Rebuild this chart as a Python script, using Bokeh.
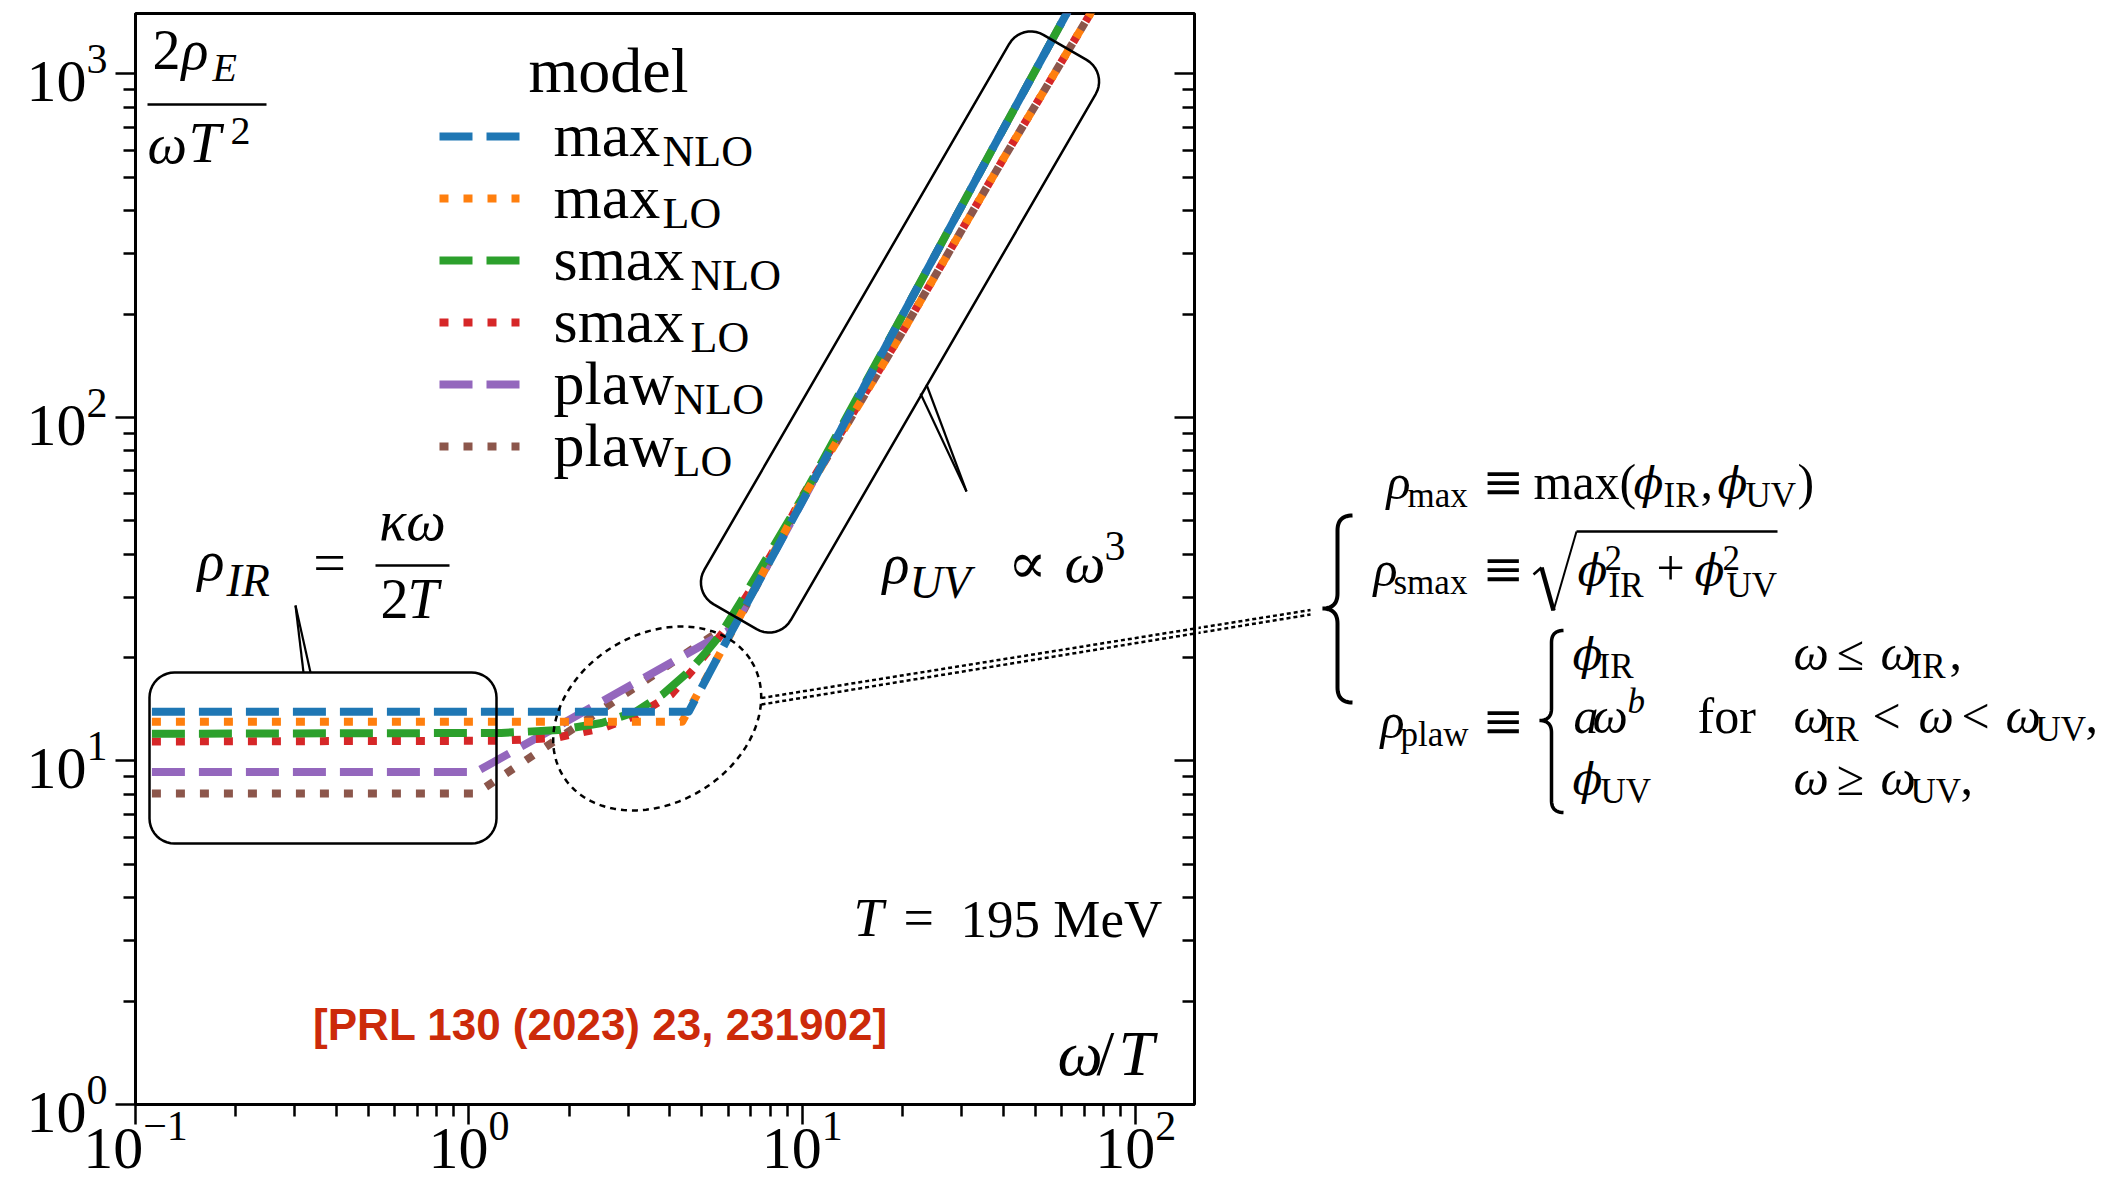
import math
from bokeh.plotting import figure
from bokeh.models import Label, FixedTicker, LogAxis, Range1d, CustomJSTickFormatter
from bokeh.layouts import row
from bokeh.embed import file_html
from bokeh.resources import INLINE

# ---------------- data: 2 rho_E / (omega T^2) vs omega/T ----------------
x_max_nlo = [0.112, 4.56, 6.0, 10, 20, 40, 62, 85]
y_max_nlo = [13.9, 13.9, 22.9, 57, 199, 690, 1500, 2700]
x_max_lo = [0.112, 4.36, 6.0, 10, 20, 40, 72.8, 95]
y_max_lo = [13.0, 13.0, 22.8, 58, 178, 565, 1490, 2450]
x_smax_nlo = [0.112, 1.25, 1.86, 2.5, 3.16, 3.8, 4.56, 5.2, 5.66, 6.5, 8.0, 10, 20, 40, 62, 85]
y_smax_nlo = [12.0, 12.07, 12.3, 12.9, 13.9, 15.6, 18.2, 21.0, 23.2, 28.8, 40.5, 58.5, 199, 690, 1500, 2700]
x_smax_lo = [0.112, 1.2, 1.8, 2.54, 3.2, 4.04, 4.81, 5.8, 7.0, 8.5, 10, 20, 40, 72.8, 95]
y_smax_lo = [11.4, 11.45, 11.65, 12.5, 13.6, 15.6, 18.9, 23.8, 31.5, 43.5, 59, 178, 565, 1490, 2450]
x_plaw_nlo = [0.112, 1.05, 6.2, 10, 20, 40, 62, 85]
y_plaw_nlo = [9.29, 9.29, 24.4, 57, 199, 690, 1500, 2700]
x_plaw_lo = [0.112, 1.05, 6.5, 10, 20, 40, 72.8, 95]
y_plaw_lo = [8.04, 8.04, 26.2, 58, 178, 565, 1490, 2450]

models = ["max", "max", "smax", "smax", "plaw", "plaw"]
orders = ["NLO", "LO", "NLO", "LO", "NLO", "LO"]
colors = ["#1f77b4", "#ff7f0e", "#2ca02c", "#d62728", "#9467bd", "#8c564b"]
x_major = [0.1, 1, 10, 100]
y_major = [1, 10, 100, 1000]

series = [
    (x_max_nlo, y_max_nlo), (x_max_lo, y_max_lo),
    (x_smax_nlo, y_smax_nlo), (x_smax_lo, y_smax_lo),
    (x_plaw_nlo, y_plaw_nlo), (x_plaw_lo, y_plaw_lo),
]
DASHED, DOTTED = "33 14", "9 15"
dashes = [DASHED, DOTTED, DASHED, DOTTED, DASHED, DOTTED]

# ---------------- layout geometry ----------------
H = 1181
W1 = 1198
FL, FR, FT, FB = 135, 1194, 13, 1104
XMIN, XMAX = 0.1, 150.0
YMIN, YMAX = 1.0, 1500.0
LX = math.log10(XMAX / XMIN)
LY = math.log10(YMAX / YMIN)
KSHIFT = 0.355   # baseline correction (fraction of font size)


def X(px):
    return XMIN * 10 ** ((px - FL) / (FR - FL) * LX)


def Y(py):
    return YMIN * 10 ** ((FB - py) / (FB - FT) * LY)


SERIF = "Liberation Serif"
MATH = "DejaVu Serif"

p = figure(width=W1, height=H, x_axis_type="log", y_axis_type="log",
           x_range=Range1d(XMIN, XMAX), y_range=Range1d(YMIN, YMAX),
           output_backend="svg", toolbar_location=None, title=None,
           min_border_left=FL, min_border_right=W1 - FR, min_border_top=FT,
           min_border_bottom=H - FB)
p.grid.visible = False
p.outline_line_color = "black"
p.outline_line_width = 3
p.background_fill_color = "white"
p.border_fill_color = "white"

x_minor = [m * d for d in (0.1, 1, 10, 100) for m in range(2, 10)]
y_minor = [m * d for d in (1, 10, 100, 1000) for m in range(2, 10)]
p.xaxis.ticker = FixedTicker(ticks=x_major, minor_ticks=x_minor)
p.yaxis.ticker = FixedTicker(ticks=y_major, minor_ticks=y_minor)
for ax in (p.xaxis[0], p.yaxis[0]):
    ax.axis_line_width = 3
    ax.major_tick_line_width = 2.5
    ax.minor_tick_line_width = 2.5
    ax.major_tick_out = 20
    ax.major_tick_in = 0
    ax.minor_tick_out = 12
    ax.minor_tick_in = 0
    ax.major_label_text_font = SERIF
    ax.major_label_text_font_size = "60px"
    ax.major_label_text_color = "black"
p.xaxis.major_label_standoff = -12
p.yaxis.major_label_standoff = 8

ra = LogAxis(ticker=FixedTicker(ticks=y_major, minor_ticks=y_minor),
             formatter=CustomJSTickFormatter(code="return ''"),
             major_tick_in=20, major_tick_out=0, minor_tick_in=12, minor_tick_out=0,
             major_tick_line_width=2.5, minor_tick_line_width=2.5,
             axis_line_color=None, major_label_standoff=0,
             major_label_text_font_size="0px")
p.add_layout(ra, "right")

# ---------------- data lines (drawn so that the max curves end up on top) ----------------
for (xs, ys), c, d in reversed(list(zip(series, colors, dashes))):
    p.line(xs, ys, line_color=c, line_width=8, line_dash=d, line_join="round")


# ---------------- helpers ----------------
def put(fig, x, y, text, size, italic=False, align="left", font=SERIF, color="black", bold=False):
    style = "bold" if bold else ("italic" if italic else "normal")
    fig.add_layout(Label(x=x, y=y, text=text, text_font=font, text_font_size=f"{size}px",
                         text_font_style=style, text_align=align, text_baseline="alphabetic",
                         text_color=color))


def put1(px, py, text, size, **k):
    put(p, X(px), Y(py - KSHIFT * size), text, size, **k)


def line1(pts, **kw):
    p.line([X(a) for a, b in pts], [Y(b) for a, b in pts], **kw)


def rrect_pts(cx, cy, hl, hw, r, ang_deg, n=10):
    th = math.radians(ang_deg)
    ux, uy = math.cos(th), -math.sin(th)
    nx, ny = math.sin(th), math.cos(th)
    pts = []
    for su, sv, a0 in [(1, 1, 0), (-1, 1, 90), (-1, -1, 180), (1, -1, 270)]:
        cu, cv = su * (hl - r), sv * (hw - r)
        for k in range(n + 1):
            a = math.radians(a0 + 90 * k / n)
            u = cu + r * math.cos(a)
            v = cv + r * math.sin(a)
            pts.append((cx + u * ux + v * nx, cy + u * uy + v * ny))
    pts.append(pts[0])
    return pts


def ell_pts(cx, cy, a, b, ang_deg, n=140):
    th = math.radians(ang_deg)
    ux, uy = math.cos(th), -math.sin(th)
    nx, ny = math.sin(th), math.cos(th)
    out = []
    for k in range(n + 1):
        t = 2 * math.pi * k / n
        out.append((cx + a * math.cos(t) * ux + b * math.sin(t) * nx,
                    cy + a * math.cos(t) * uy + b * math.sin(t) * ny))
    return out


def brace_pts(xt, ym, yt, yb, w, n=14):
    xa, xe, h = xt + w / 2, xt + w, w / 2

    def qb(p0, c, p1):
        return [((1 - t) ** 2 * p0[0] + 2 * (1 - t) * t * c[0] + t * t * p1[0],
                 (1 - t) ** 2 * p0[1] + 2 * (1 - t) * t * c[1] + t * t * p1[1])
                for t in [k / n for k in range(n + 1)]]
    pts = qb((xe, yt), (xa, yt), (xa, yt + h))
    pts += qb((xa, ym - h), (xa, ym), (xt, ym))
    pts += qb((xt, ym), (xa, ym), (xa, ym + h))
    pts += qb((xa, yb - h), (xa, yb), (xe, yb))
    return pts


# ---------------- annotations inside the plot ----------------
# y-axis label as fraction
put1(152, 69, "2", 56)
put1(181, 69, "ρ", 56, italic=True)
put1(212, 81, "E", 40, italic=True)
line1([(147, 104), (266, 104)], line_color="black", line_width=2.7)
put1(147, 163, "ω", 56, italic=True)
put1(188, 163, "T", 58, italic=True)
put1(230, 145, "2", 40)

# legend
put1(528, 93, "model", 64)
rows_y = [136, 198, 260, 322, 384, 446]
sub_x = [662, 662, 690, 690, 673, 673]
for i in range(6):
    ry = rows_y[i]
    line1([(439, ry), (519, ry)], line_color=colors[i], line_width=8, line_dash=dashes[i])
    put1(553, ry + 21, models[i], 62)
    put1(sub_x[i], ry + 31, orders[i], 44)

# rho_IR label
put1(197, 580, "ρ", 56, italic=True)
put1(226, 596, "IR", 46, italic=True)
put1(329, 583, "=", 58, align="center")
line1([(375, 565), (449, 565)], line_color="black", line_width=2.5)
put1(412, 540, "κω", 56, italic=True, align="center")
put1(380, 618, "2", 56)
put1(407, 618, "T", 56, italic=True)
line1([(295, 605), (303, 672)], line_color="black", line_width=2.2)
line1([(295, 605), (310, 672)], line_color="black", line_width=2.2)

# rho_UV label
put1(882, 583, "ρ", 56, italic=True)
put1(909, 598, "UV", 46, italic=True)
put1(1027, 583, "∝", 58, align="center", font=MATH)
put1(1064, 583, "ω", 58, italic=True)
put1(1104, 560, "3", 42)
line1([(926, 384), (966, 491)], line_color="black", line_width=2.2)
line1([(920, 393), (966, 491)], line_color="black", line_width=2.2)

# boxes and ellipse
line1(rrect_pts(322.5, 757.5, 173.5, 85.5, 25, 0), line_color="black", line_width=2.5)
line1(rrect_pts(899.5, 331.5, 329, 50, 25, 59.9), line_color="black", line_width=2.5)
line1(ell_pts(656.7, 718, 110.3, 84.3, 31.1), line_color="black", line_width=2.5, line_dash="6 5")
line1([(761, 697.5), (1310, 609.5)], line_color="black", line_width=2.5, line_dash="4 3")
line1([(761, 704), (1310, 614)], line_color="black", line_width=2.5, line_dash="4 3")

# temperature, axis name, reference
put1(853, 937, "T", 54, italic=True)
put1(903, 937, "=", 54)
put1(960, 937, "195 MeV", 53)
put1(1057, 1076, "ω", 64, italic=True)
put1(1096, 1076, "/", 64)
put1(1118, 1076, "T", 64, italic=True)
put1(600, 1040, "[PRL 130 (2023) 23, 231902]", 44, bold=True, align="center",
     font="Liberation Sans", color="#cc2a0a")

# ---------------- right panel with the model definitions ----------------
W2 = 2126 - W1
p2 = figure(width=W2, height=H, x_range=Range1d(W1, 2126), y_range=Range1d(FB, FT),
            output_backend="svg", toolbar_location=None, title=None,
            min_border_left=0, min_border_right=0, min_border_top=FT, min_border_bottom=H - FB,
            x_axis_location=None, y_axis_location=None)
p2.grid.visible = False
p2.outline_line_color = None
p2.background_fill_color = "white"
p2.border_fill_color = "white"


def put2(px, py, text, size, **k):
    put(p2, px, py - KSHIFT * size, text, size, **k)


def line2(pts, **kw):
    p2.line([a for a, b in pts], [b for a, b in pts], **kw)


line2([(761, 697.5), (1310, 609.5)], line_color="black", line_width=2.5, line_dash="4 3")
line2([(761, 704), (1310, 614)], line_color="black", line_width=2.5, line_dash="4 3")
line2(brace_pts(1322, 608, 515, 702, 30), line_color="black", line_width=4)
line2(brace_pts(1539, 720, 630, 812, 24), line_color="black", line_width=3.5)

F, S = 50, 35
# rho_max
put2(1386, 499, "ρ", F, italic=True)
put2(1407, 507, "max", S)
put2(1503, 499, "≡", F, align="center", font=MATH)
put2(1533, 499, "max(", F)
put2(1633, 499, "ϕ", 44, italic=True, font=MATH)
put2(1663, 507, "IR", S)
put2(1700, 499, ",", F)
put2(1717, 499, "ϕ", 44, italic=True, font=MATH)
put2(1745, 507, "UV", S)
put2(1797, 499, ")", F)
# rho_smax
put2(1373, 586, "ρ", F, italic=True)
put2(1393, 594, "smax", S)
put2(1503, 586, "≡", F, align="center", font=MATH)
line2([(1533, 574), (1541, 567)], line_color="black", line_width=2.5)
line2([(1541, 567), (1553, 610)], line_color="black", line_width=4.5)
line2([(1553, 610), (1576, 531)], line_color="black", line_width=2)
line2([(1576, 531), (1777, 531)], line_color="black", line_width=2.5)
put2(1577, 586, "ϕ", 44, italic=True, font=MATH)
put2(1604, 570, "2", S)
put2(1608, 597, "IR", S)
put2(1670, 586, "+", F, align="center")
put2(1694, 586, "ϕ", 44, italic=True, font=MATH)
put2(1722, 570, "2", S)
put2(1726, 597, "UV", S)
# rho_plaw
put2(1380, 738, "ρ", F, italic=True)
put2(1400, 746, "plaw", S)
put2(1503, 738, "≡", F, align="center", font=MATH)
put2(1572, 670, "ϕ", 44, italic=True, font=MATH)
put2(1598, 678, "IR", S)
put2(1793, 670, "ω", F, italic=True)
put2(1850, 670, "≤", F, align="center")
put2(1880, 670, "ω", F, italic=True)
put2(1910, 678, "IR", S)
put2(1949, 670, ",", F)
put2(1573, 733, "a", F, italic=True)
put2(1592, 733, "ω", F, italic=True)
put2(1627, 713, "b", S, italic=True)
put2(1697, 733, "for", F)
put2(1793, 733, "ω", F, italic=True)
put2(1823, 741, "IR", S)
put2(1886, 733, "<", F, align="center")
put2(1918, 733, "ω", F, italic=True)
put2(1975, 733, "<", F, align="center")
put2(2005, 733, "ω", F, italic=True)
put2(2035, 741, "UV", S)
put2(2085, 733, ",", F)
put2(1572, 795, "ϕ", 44, italic=True, font=MATH)
put2(1600, 803, "UV", S)
put2(1793, 795, "ω", F, italic=True)
put2(1850, 795, "≥", F, align="center")
put2(1880, 795, "ω", F, italic=True)
put2(1910, 803, "UV", S)
put2(1960, 795, ",", F)

layout = row(p, p2)
open("out.html", "w").write(file_html(layout, INLINE))
